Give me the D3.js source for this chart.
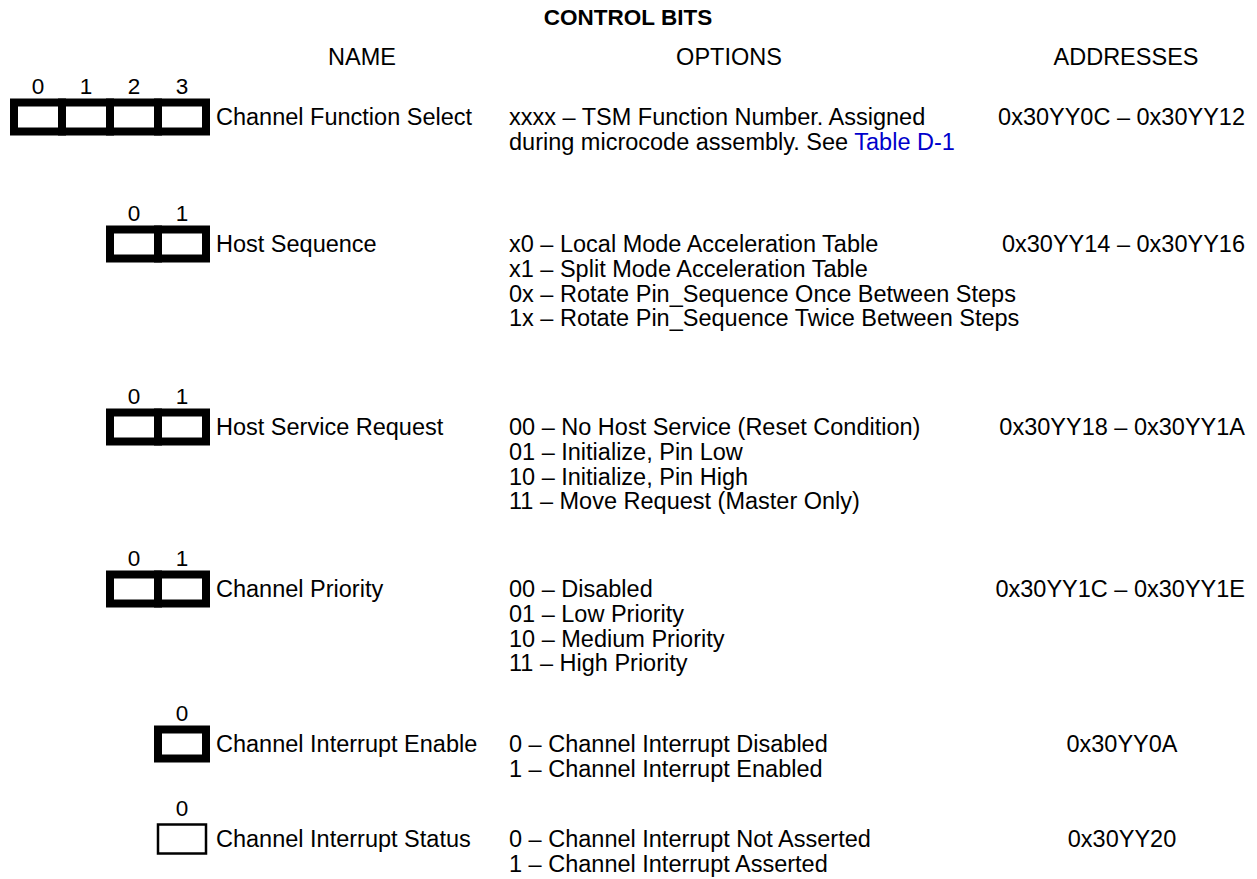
<!DOCTYPE html>
<html>
<head>
<meta charset="utf-8">
<script src="https://cdn.jsdelivr.net/npm/d3@7"></script>
<style>
  html, body { margin: 0; padding: 0; background: #fff; }
  svg text { font-family: "Liberation Sans", Arial, Helvetica, sans-serif; fill: #000; }
</style>
</head>
<body>
<svg id="chart" width="1257" height="879"></svg>
<script>
// ---- data ----
const title = "CONTROL BITS";
const columnHeaders = ["NAME", "OPTIONS", "ADDRESSES"];
const fieldNames = ["Channel Function Select", "Host Sequence", "Host Service Request",
  "Channel Priority", "Channel Interrupt Enable", "Channel Interrupt Status"];
const bitCounts = [4, 2, 2, 2, 1, 1];
const options = [
  ["xxxx – TSM Function Number. Assigned", "during microcode assembly. See |Table D-1"],
  ["x0 – Local Mode Acceleration Table", "x1 – Split Mode Acceleration Table",
   "0x – Rotate Pin_Sequence Once Between Steps", "1x – Rotate Pin_Sequence Twice Between Steps"],
  ["00 – No Host Service (Reset Condition)", "01 – Initialize, Pin Low",
   "10 – Initialize, Pin High", "11 – Move Request (Master Only)"],
  ["00 – Disabled", "01 – Low Priority", "10 – Medium Priority", "11 – High Priority"],
  ["0 – Channel Interrupt Disabled", "1 – Channel Interrupt Enabled"],
  ["0 – Channel Interrupt Not Asserted", "1 – Channel Interrupt Asserted"]
];
const addresses = ["0x30YY0C – 0x30YY12", "0x30YY14 – 0x30YY16", "0x30YY18 – 0x30YY1A",
  "0x30YY1C – 0x30YY1E", "0x30YY0A", "0x30YY20"];

// ---- layout ----
const rowY = [117, 244, 427, 589, 744, 839];     // centre of first line of each row
const digitOffset = -31;                          // bit-number labels above the cells
const addrAnchor = ["end", "end", "end", "end", "middle", "middle"];
const addrX = [1245, 1245, 1245, 1245, 1122, 1122];
const thickBox = [true, true, true, true, true, false];
const FS = 23.5, LH = 24.6;
const cellW = 48, cellH = 29, cellRight = 206;
const nameX = 216, optX = 509;
const base = FS * 0.355;

const svg = d3.select("#chart");

svg.append("text").attr("x", 628).attr("y", 17 + base)
  .attr("text-anchor", "middle").attr("font-weight", "bold").attr("font-size", FS - 1)
  .text(title);
const headerX = [362, 729, 1126];
svg.selectAll("text.hdr").data(columnHeaders).join("text").attr("class", "hdr")
  .attr("x", (d, i) => headerX[i]).attr("y", 57 + base)
  .attr("text-anchor", "middle").attr("font-size", FS).text(d => d);

const rows = svg.selectAll("g.row").data(fieldNames.map((n, i) => ({
  name: n, bits: bitCounts[i], opts: options[i], addr: addresses[i], i
}))).join("g").attr("class", "row")
  .attr("transform", d => `translate(0,${rowY[d.i]})`);

// bit cells
rows.each(function(d) {
  const g = d3.select(this);
  const x = d3.scaleLinear().domain([0, d.bits]).range([cellRight - d.bits * cellW, cellRight]);
  const idx = d3.range(d.bits);
  const sw = thickBox[d.i] ? 8 : 2.5;
  g.selectAll("rect.cell").data(idx).join("rect").attr("class", "cell")
    .attr("x", b => x(b)).attr("y", -cellH / 2)
    .attr("width", cellW).attr("height", cellH)
    .attr("fill", "#fff").attr("stroke", "#000").attr("stroke-width", sw);
  g.selectAll("text.bit").data(idx).join("text").attr("class", "bit")
    .attr("x", b => x(b + 0.5)).attr("y", digitOffset + base)
    .attr("text-anchor", "middle").attr("font-size", FS - 1).text(b => b);
});

rows.append("text").attr("x", nameX).attr("y", base)
  .attr("font-size", FS).text(d => d.name);

rows.each(function(d) {
  const g = d3.select(this);
  d.opts.forEach((line, k) => {
    const t = g.append("text").attr("x", optX).attr("y", k * LH + base).attr("font-size", FS);
    const parts = line.split("|");
    t.append("tspan").text(parts[0]);
    if (parts[1]) t.append("tspan").style("fill", "#0000cc").text(parts[1]);
  });
});

rows.append("text").attr("x", d => addrX[d.i]).attr("y", base)
  .attr("text-anchor", d => addrAnchor[d.i])
  .attr("font-size", FS).text(d => d.addr);
</script>
</body>
</html>
